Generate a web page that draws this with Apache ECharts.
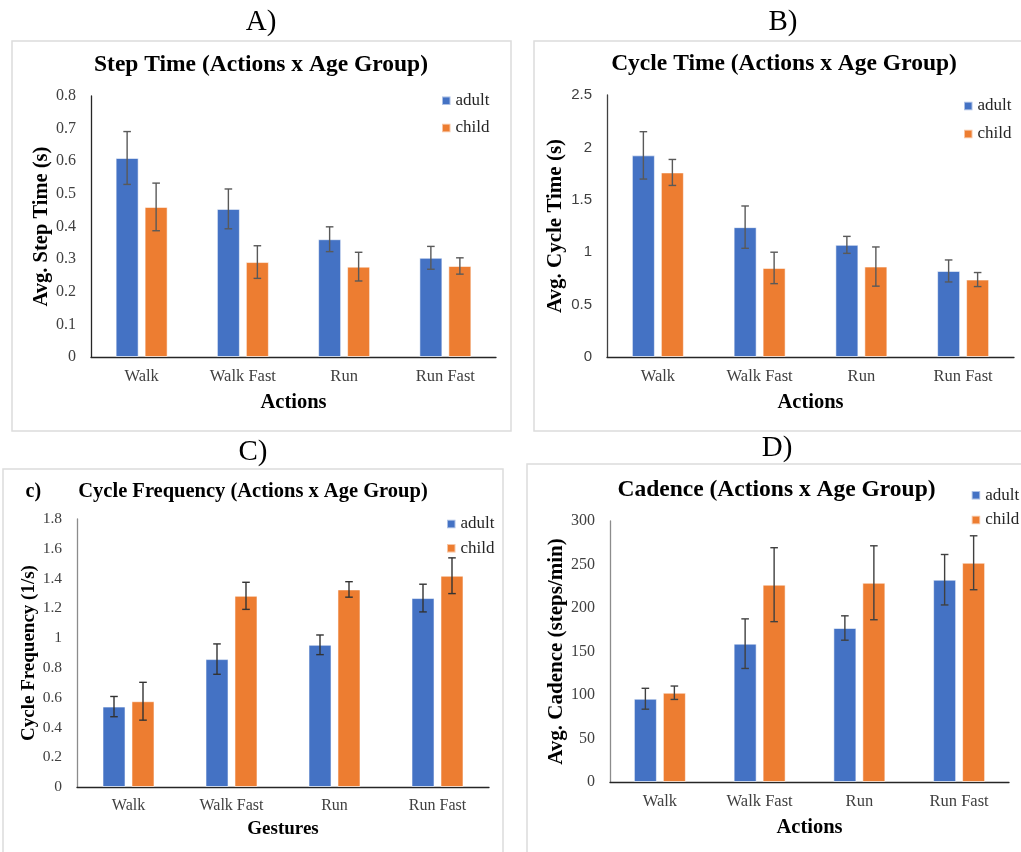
<!DOCTYPE html>
<html>
<head>
<meta charset="utf-8">
<script src="https://cdn.jsdelivr.net/npm/echarts@6/dist/echarts.min.js"></script>
<style>
html,body{margin:0;padding:0;background:#fff;}
#chart{width:1021px;height:852px;}
</style>
</head>
<body>
<div id="chart"></div>
<script>
// ---------- data ----------
const categories = ['Walk', 'Walk Fast', 'Run', 'Run Fast'];
const groups = ['adult', 'child'];

// A) Step Time
const stepAdult    = [0.610, 0.454, 0.361, 0.304];
const stepAdultErr = [0.081, 0.061, 0.038, 0.035];
const stepChild    = [0.460, 0.291, 0.277, 0.279];
const stepChildErr = [0.073, 0.050, 0.044, 0.025];

// B) Cycle Time
const cycleAdult    = [1.924, 1.239, 1.070, 0.821];
const cycleAdultErr = [0.226, 0.202, 0.081, 0.105];
const cycleChild    = [1.761, 0.850, 0.863, 0.739];
const cycleChildErr = [0.124, 0.150, 0.187, 0.067];

// C) Cycle Frequency
const freqAdult    = [0.540, 0.859, 0.955, 1.269];
const freqAdultErr = [0.068, 0.102, 0.066, 0.093];
const freqChild    = [0.576, 1.284, 1.327, 1.419];
const freqChildErr = [0.127, 0.091, 0.052, 0.120];

// D) Cadence
const cadAdult    = [95.7, 159, 177, 232.5];
const cadAdultErr = [12, 28.5, 14, 29];
const cadChild    = [102.6, 226.8, 229, 252];
const cadChildErr = [7.7, 42.5, 42.5, 31];

// ---------- styling ----------
const SERIF = '"Liberation Serif", "Times New Roman", serif';
const SANS = '"Liberation Sans", Arial, sans-serif';
const BLUE = '#4472C4', ORANGE = '#ED7D31';
const BAR_W = 23, BAR_OFF = 14.5;

const panels = [
  { grid:{left:91, top:96, width:405, height:261}, max:0.8, interval:0.1,
    yName:'Avg. Step Time (s)', yNameSize:20.5, yNameGap:38, xName:'Actions', xNameSize:20.5, xNameGap:35,
    tickFont:SERIF, tickSize:16, xTickSize:16.5, yAxisColor:'#262626',
    a:stepAdult, ae:stepAdultErr, c:stepChild, ce:stepChildErr, errColor:'#595959',
    legend:{left:441, top:92.2, gap:10.3} },
  { grid:{left:607, top:95, width:407, height:262}, max:2.5, interval:0.5,
    yName:'Avg. Cycle Time (s)', yNameSize:21, yNameGap:41, xName:'Actions', xNameSize:20.5, xNameGap:35,
    tickFont:SANS, tickSize:15, xTickSize:16.5, yAxisColor:'#404040',
    a:cycleAdult, ae:cycleAdultErr, c:cycleChild, ce:cycleChildErr, errColor:'#595959',
    legend:{left:963, top:97.5, gap:11} },
  { grid:{left:77, top:519, width:412, height:268}, max:1.8, interval:0.2,
    yName:'Cycle Frequency (1/s)', yNameSize:19, yNameGap:34, xName:'Gestures', xNameSize:19, xNameGap:33,
    tickFont:SERIF, tickSize:15.5, xTickSize:16, yAxisColor:'#8c8c8c',
    a:freqAdult, ae:freqAdultErr, c:freqChild, ce:freqChildErr, errColor:'#333333',
    legend:{left:446, top:515.5, gap:7.3} },
  { grid:{left:610, top:521, width:399, height:261}, max:300, interval:50,
    yName:'Avg. Cadence (steps/min)', yNameSize:21, yNameGap:41, xName:'Actions', xNameSize:20.5, xNameGap:35,
    tickFont:SERIF, tickSize:16, xTickSize:16.5, yAxisColor:'#8c8c8c',
    a:cadAdult, ae:cadAdultErr, c:cadChild, ce:cadChildErr, errColor:'#404040',
    legend:{left:970.7, top:486.8, gap:7.7} }
];

function errRenderer(side, color) {
  return function (params, api) {
    const c = api.value(0);
    const lo = api.coord([c, api.value(1)]);
    const hi = api.coord([c, api.value(2)]);
    const x = lo[0] + side * BAR_OFF;
    const cap = 3.8;
    const style = { stroke: color, lineWidth: 1.4 };
    return { type: 'group', children: [
      { type: 'line', shape: { x1: x, y1: lo[1], x2: x, y2: hi[1] }, style: style },
      { type: 'line', shape: { x1: x - cap, y1: lo[1], x2: x + cap, y2: lo[1] }, style: style },
      { type: 'line', shape: { x1: x - cap, y1: hi[1], x2: x + cap, y2: hi[1] }, style: style }
    ]};
  };
}

const grid = [], xAxis = [], yAxis = [], series = [], legend = [];
panels.forEach(function (p, k) {
  grid.push(Object.assign({ containLabel: false }, p.grid));
  xAxis.push({
    type: 'category', gridIndex: k, data: categories,
    axisLine: { lineStyle: { color: '#262626', width: 1.3 } },
    axisTick: { show: false },
    axisLabel: { fontFamily: SERIF, fontSize: p.xTickSize, color: '#404040', margin: 11 },
    name: p.xName, nameLocation: 'middle', nameGap: p.xNameGap,
    nameTextStyle: { fontFamily: SERIF, fontWeight: 'bold', fontSize: p.xNameSize, color: '#000' }
  });
  yAxis.push({
    type: 'value', gridIndex: k, min: 0, max: p.max, interval: p.interval,
    splitLine: { show: false },
    axisLine: { show: true, lineStyle: { color: p.yAxisColor, width: 1.3 } },
    axisTick: { show: false },
    axisLabel: { fontFamily: p.tickFont, fontSize: p.tickSize, color: '#404040', margin: 15 },
    name: p.yName, nameLocation: 'middle', nameRotate: 90, nameGap: p.yNameGap,
    nameTextStyle: { fontFamily: SERIF, fontWeight: 'bold', fontSize: p.yNameSize, color: '#000' }
  });
  const vals = [p.a, p.c], errs = [p.ae, p.ce], cols = [BLUE, ORANGE];
  groups.forEach(function (g, j) {
    series.push({
      type: 'bar', name: g, xAxisIndex: k, yAxisIndex: k,
      data: vals[j], barWidth: BAR_W, barGap: '26%',
      itemStyle: { color: cols[j], borderColor: 'rgba(255,255,255,0.55)', borderWidth: 1 },
      animation: false
    });
  });
  groups.forEach(function (g, j) {
    series.push({
      type: 'custom', name: g + ' error', xAxisIndex: k, yAxisIndex: k, z: 5,
      renderItem: errRenderer(j === 0 ? -1 : 1, p.errColor),
      encode: { x: 0, y: [1, 2] },
      data: categories.map(function (_, i) { return [i, vals[j][i] - errs[j][i], vals[j][i] + errs[j][i]]; }),
      animation: false, silent: true
    });
  });
  legend.push({
    data: groups, orient: 'vertical', left: p.legend.left, top: p.legend.top,
    itemWidth: 8.5, itemHeight: 8.5, itemGap: p.legend.gap, icon: 'rect',
    padding: 0,
    textStyle: { fontFamily: SERIF, fontSize: 17, lineHeight: 17, color: '#262626' }
  });
});

function txt(x, y, s, size, weight) {
  return { type: 'text', x: x, y: y, silent: true, style: {
    text: s, fontFamily: SERIF, fontSize: size, fontWeight: weight || 'normal', fill: '#000',
    textAlign: 'center', textVerticalAlign: 'middle' } };
}
function box(x, y, w, h) {
  return { type: 'rect', silent: true, shape: { x: x, y: y, width: w, height: h },
    style: { fill: 'none', stroke: '#dcdcdc', lineWidth: 1.5 } };
}

const graphic = [
  box(12, 41, 499, 390),
  box(534, 41, 500, 390),
  box(3, 469, 500, 400),
  box(527, 464, 510, 400),
  txt(261, 22, 'A)', 29),
  txt(783, 22, 'B)', 29),
  txt(253, 452, 'C)', 29),
  txt(777, 448.5, 'D)', 29),
  txt(261, 65, 'Step Time (Actions x Age Group)', 23.5, 'bold'),
  txt(784, 64, 'Cycle Time (Actions x Age Group)', 23.5, 'bold'),
  txt(33.3, 491.5, 'c)', 20, 'bold'),
  txt(253, 491.3, 'Cycle Frequency (Actions x Age Group)', 20.5, 'bold'),
  txt(776.5, 490, 'Cadence (Actions x Age Group)', 23.5, 'bold')
];

const chart = echarts.init(document.getElementById('chart'), null, { renderer: 'canvas' });
chart.setOption({
  backgroundColor: '#ffffff',
  animation: false,
  grid: grid, xAxis: xAxis, yAxis: yAxis, series: series, legend: legend,
  graphic: graphic
});
</script>
</body>
</html>
